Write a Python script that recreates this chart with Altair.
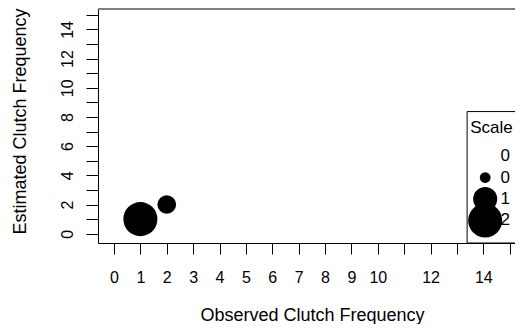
import altair as alt
import pandas as pd

# ---- data ----
observed = [1, 2]
estimated = [1, 2]
scale_vals = [2.0, 0.6]

legend_title = "Scale"
legend_labels = ["0", "0", "1", "2"]
legend_vals = [0.0, 0.2, 1.0, 2.0]

x_ticks = list(range(0, 16))
x_labels_shown = [0, 1, 2, 3, 4, 5, 6, 7, 8, 9, 10, 12, 14]
y_ticks = list(range(0, 16))
y_labels_shown = [0, 2, 4, 6, 8, 10, 12, 14]

x_title = "Observed Clutch Frequency"
y_title = "Estimated Clutch Frequency"

# ---- layout ----
W, H = 417, 234
XDOM = [-0.6065, 15.2]
YDOM = [-0.637, 15.40]
FONT = "Liberation Sans"

# legend placement (in data units of the plot)
LEG_BOX_X, LEG_BOX_Y = 13.385, 8.37
LEG_SYM_X, LEG_LAB_X, LEG_TITLE_X, LEG_TITLE_Y = 14.07, 14.65, 13.50, 6.89
LEG_TOP, LEG_STEP = 5.32, 1.47

pts = pd.DataFrame({"x": observed, "y": estimated, "scale": scale_vals})
leg = pd.DataFrame({
    "x": [LEG_SYM_X] * len(legend_vals),
    "xl": [LEG_LAB_X] * len(legend_vals),
    "y": [LEG_TOP - i * LEG_STEP for i in range(len(legend_vals))],
    "scale": legend_vals,
    "label": legend_labels,
})
box = pd.DataFrame({"x": [LEG_BOX_X], "x2": [XDOM[1] + 2], "y": [LEG_BOX_Y], "y2": [YDOM[0]]})
ttl = pd.DataFrame({"x": [LEG_TITLE_X], "y": [LEG_TITLE_Y], "t": [legend_title]})

xs = alt.Scale(domain=XDOM, nice=False, zero=False)
ys = alt.Scale(domain=YDOM, nice=False, zero=False)
ss = alt.Scale(domain=[0, 2], range=[0, 1160], zero=True)

x_axis = alt.Axis(
    values=x_ticks,
    labelExpr="indexof(%s, datum.value) >= 0 ? datum.label : ''" % str(x_labels_shown),
    title=x_title, grid=False, tickSize=11, labelPadding=28.5,
    labelBaseline="alphabetic", labelFontSize=16, labelFlush=False, labelOverlap=False,
    titleFontSize=18, titleX=214, titleY=77, titleBaseline="alphabetic",
    titleAlign="center", titleFontWeight="normal",
)
y_axis = alt.Axis(
    values=y_ticks,
    labelExpr="indexof(%s, datum.value) >= 0 ? datum.label : ''" % str(y_labels_shown),
    title=y_title, grid=False, tickSize=12, labelPadding=14,
    labelAngle=270, labelAlign="center", labelBaseline="alphabetic", labelFontSize=16,
    labelOverlap=False, labelFlush=False,
    titleFontSize=18, titleAngle=270, titleX=-73, titleY=112,
    titleBaseline="alphabetic", titleAlign="center", titleFontWeight="normal",
)


def X(f):
    return alt.X(f, scale=xs, axis=x_axis, title=x_title)


def Y(f):
    return alt.Y(f, scale=ys, axis=y_axis, title=y_title)


points = alt.Chart(pts).mark_circle(color="black", opacity=1).encode(
    x=X("x:Q"), y=Y("y:Q"),
    size=alt.Size("scale:Q", scale=ss, legend=None),
)

legbox = alt.Chart(box).mark_rect(fill="white", stroke="black", strokeWidth=1, clip=True).encode(
    x=X("x:Q"), x2="x2:Q", y=Y("y:Q"), y2="y2:Q",
)

legsym = alt.Chart(leg).mark_circle(color="black", opacity=1).encode(
    x=X("x:Q"), y=Y("y:Q"),
    size=alt.Size("scale:Q", scale=ss, legend=None),
)

leglab = alt.Chart(leg).mark_text(align="left", baseline="middle", fontSize=17, font=FONT, color="black").encode(
    x=X("xl:Q"), y=Y("y:Q"), text="label:N",
)

legttl = alt.Chart(ttl).mark_text(align="left", baseline="alphabetic", fontSize=17, font=FONT, color="black").encode(
    x=X("x:Q"), y=Y("y:Q"), text="t:N",
)

toprule = alt.Chart(pts).mark_rule(color="#555555", strokeWidth=1).encode(
    x=alt.value(0), x2=alt.value(W), y=alt.value(0)
)

chart = alt.layer(legbox, points, legsym, leglab, legttl, toprule).properties(
    width=W, height=H,
    autosize="none",
    padding={"left": 90, "top": 1, "right": 0, "bottom": 81},
).configure_view(stroke=None).configure_axis(
    labelFont=FONT, titleFont=FONT, labelColor="black", titleColor="black",
    domainColor="black", tickColor="black", domainWidth=1, tickWidth=1,
)

chart.save("out.html", embed_options={"renderer": "svg", "actions": False})
